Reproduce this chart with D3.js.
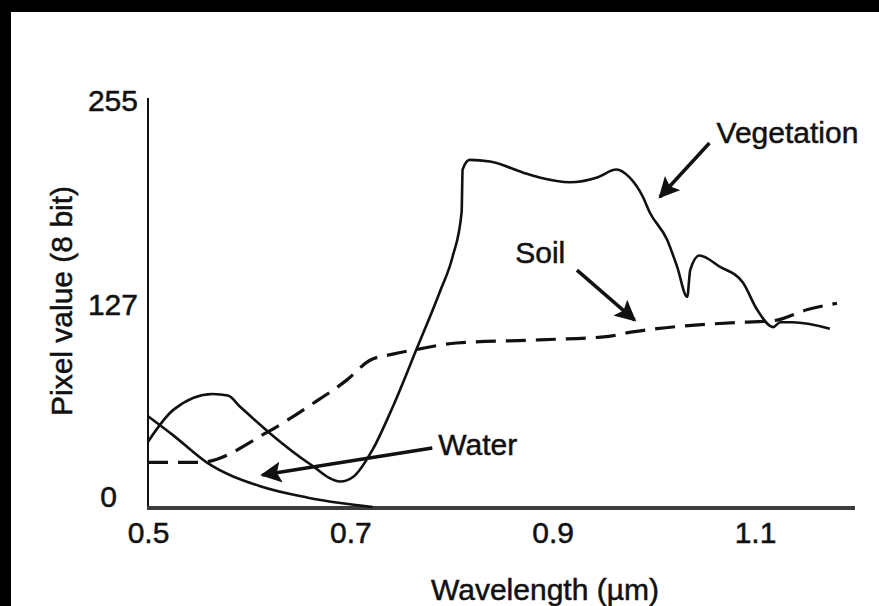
<!DOCTYPE html>
<html>
<head>
<meta charset="utf-8">
<script src="https://cdn.jsdelivr.net/npm/d3@7"></script>
<style>
  html, body { margin: 0; padding: 0; overflow: hidden; background: #fff; }
  svg { display: block; }
  text { font-family: "Liberation Sans", Arial, sans-serif; fill: #111; stroke: #111; stroke-width: 0.5px; }
</style>
</head>
<body>
<div id="chart"></div>
<script>
// wavelength (µm) and pixel value (0-255)
const vegWl  = [0.5, 0.525, 0.564, 0.579, 0.591, 0.621, 0.660, 0.690, 0.703, 0.722, 0.742, 0.766, 0.789, 0.801, 0.810, 0.811, 0.818, 0.838, 0.871, 0.887, 0.917, 0.944, 0.963, 0.976, 0.989, 0.996, 1.013, 1.023, 1.033, 1.036, 1.045, 1.065, 1.088, 1.102, 1.118, 1.125, 1.137, 1.174];
const vegVal = [41, 61, 71, 70, 63, 46, 27, 16, 19, 36, 63, 100, 136, 157, 185, 212, 218, 217, 210, 207, 204, 207, 212, 207, 195, 185, 168, 151, 132, 149, 158, 151, 141, 124, 113, 116, 116, 112];

const soilWl  = [0.5, 0.551, 0.618, 0.663, 0.697, 0.719, 0.742, 0.766, 0.805, 0.887, 0.953, 0.979, 1.003, 1.085, 1.118, 1.152, 1.181];
const soilVal = [28, 28, 47, 65, 80, 92, 96, 99, 103, 105, 107, 110, 112, 116, 117, 124, 128];

const waterWl  = [0.5, 0.525, 0.558, 0.611, 0.657, 0.690, 0.722];
const waterVal = [57, 45, 28, 13, 6, 2.5, 0];

const xTicks = [0.5, 0.7, 0.9, 1.1];
const yTicks = [0, 127, 255];

// labels: name, text anchor (wl, value), arrow from, arrow to
const labelNames = ["Vegetation", "Soil", "Water"];
const labelAt    = [[1.062, 228.6], [0.863, 153.2], [0.787, 32.7]];
const arrowFrom  = [[1.055, 228.6], [0.924, 148.8], [0.781, 37]];
const arrowTo    = [[1.006, 194.7], [0.981, 117.4], [0.613, 20.1]];

const width = 879, height = 606;

const svg = d3.select("#chart").append("svg")
    .attr("width", width)
    .attr("height", height);

// black frame on top/left, white page
svg.append("rect").attr("width", width).attr("height", height).attr("fill", "#000");
svg.append("rect").attr("x", 11).attr("y", 12).attr("width", width - 11).attr("height", height - 12).attr("fill", "#fff");

const x = d3.scaleLinear().domain([0.5, 1.1]).range([148, 755]);
const y = d3.scaleLinear().domain([0, 255]).range([507, 101]);

svg.append("defs").append("marker")
    .attr("id", "head")
    .attr("viewBox", "0 0 10 10")
    .attr("refX", 9).attr("refY", 5)
    .attr("markerWidth", 6).attr("markerHeight", 6)
    .attr("markerUnits", "strokeWidth")
    .attr("orient", "auto")
    .append("path")
    .attr("d", "M0,0 L10,5 L0,10 L2,5 Z")
    .attr("fill", "#111");

// axes
const yAxis = svg.append("g")
    .attr("transform", `translate(${x(0.5)},0)`)
    .call(d3.axisLeft(y).tickValues(yTicks).tickSize(0).tickPadding(10));
yAxis.select(".domain").remove();
yAxis.append("line")
    .attr("x1", 0).attr("x2", 0).attr("y1", 98).attr("y2", 508)
    .attr("stroke", "#111").attr("stroke-width", 2);
yAxis.selectAll(".tick text")
    .style("font-size", "30px")
    .style("font-family", "Liberation Sans, Arial, sans-serif")
    .attr("fill", "#111")
    .attr("x", d => d === 0 ? -31 : -10)
    .attr("dy", "0.32em");
yAxis.selectAll(".tick").filter(d => d === 0).select("text").attr("y", -10);

const xAxis = svg.append("g")
    .attr("transform", "translate(0,508)")
    .call(d3.axisBottom(x).tickValues(xTicks).tickSize(0).tickPadding(14).tickFormat(d3.format(".1f")));
xAxis.select(".domain").remove();
xAxis.append("line")
    .attr("x1", 147).attr("x2", 855).attr("y1", 0).attr("y2", 0)
    .attr("stroke", "#3c3c3c").attr("stroke-width", 4);
xAxis.selectAll(".tick text")
    .style("font-size", "30px")
    .style("font-family", "Liberation Sans, Arial, sans-serif")
    .attr("fill", "#111");

svg.append("text")
    .attr("transform", "translate(72,301) rotate(-90)")
    .attr("text-anchor", "middle")
    .style("font-size", "30px")
    .text("Pixel value (8 bit)");

svg.append("text")
    .attr("x", 545).attr("y", 600)
    .attr("text-anchor", "middle")
    .style("font-size", "30px")
    .text("Wavelength (µm)");

// curves
const line = d3.line()
    .x(d => x(d[0]))
    .y(d => y(d[1]))
    .curve(d3.curveMonotoneX);

const series = [
    { wl: vegWl, val: vegVal, dash: null },
    { wl: soilWl, val: soilVal, dash: "20,10" },
    { wl: waterWl, val: waterVal, dash: null }
];

svg.append("g").selectAll("path")
    .data(series)
    .enter()
    .append("path")
    .attr("d", s => line(s.wl.map((w, i) => [w, s.val[i]])))
    .attr("fill", "none")
    .attr("stroke", "#111")
    .attr("stroke-width", s => s.dash ? 3.2 : 2.6)
    .attr("stroke-dasharray", s => s.dash)
    .attr("stroke-linejoin", "round");

// annotations
const notes = svg.append("g");
labelNames.forEach((name, i) => {
    notes.append("line")
        .attr("x1", x(arrowFrom[i][0])).attr("y1", y(arrowFrom[i][1]))
        .attr("x2", x(arrowTo[i][0])).attr("y2", y(arrowTo[i][1]))
        .attr("stroke", "#111")
        .attr("stroke-width", 3.5)
        .attr("marker-end", "url(#head)");
    notes.append("text")
        .attr("x", x(labelAt[i][0])).attr("y", y(labelAt[i][1]))
        .style("font-size", "30px")
        .text(name);
});
</script>
</body>
</html>
